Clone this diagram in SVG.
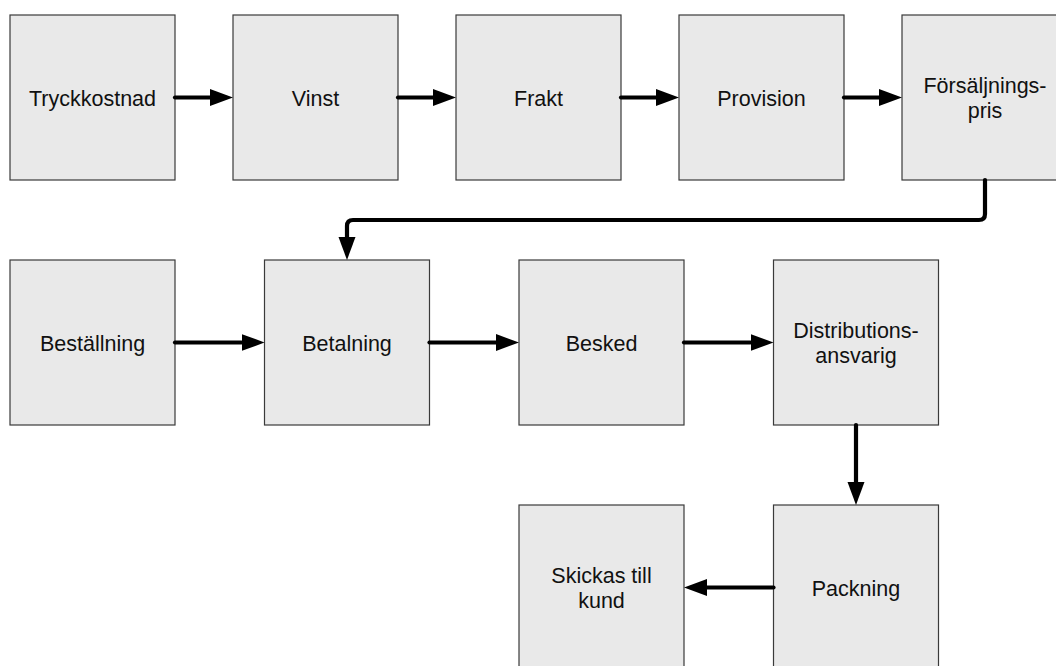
<svg xmlns="http://www.w3.org/2000/svg" width="1056" height="666" viewBox="0 0 1056 666">
<style>
.box{fill:#e9e9e9;stroke:#3a3a3a;stroke-width:1.2}
.lbl{font-family:"Liberation Sans",Arial,Helvetica,sans-serif;font-size:21.5px;fill:#111;text-anchor:middle}
.con{fill:none;stroke:#000;stroke-width:4.2;stroke-linecap:round;stroke-linejoin:round}
</style>
<defs>
<marker id="ah" markerUnits="userSpaceOnUse" markerWidth="23" markerHeight="18" refX="0" refY="8.5" orient="auto" viewBox="0 0 23 17">
<path d="M0,0 L23,8.5 L0,17 Z" fill="#000"/>
</marker>
</defs>
<rect width="1056" height="666" fill="#fff"/>
<g id="n1"><rect class="box" x="10" y="15" width="165" height="165"/><text class="lbl" x="92.5" y="105.5">Tryckkostnad</text></g>
<g id="n2"><rect class="box" x="233" y="15" width="165" height="165"/><text class="lbl" x="315.5" y="105.5">Vinst</text></g>
<g id="n3"><rect class="box" x="456" y="15" width="165" height="165"/><text class="lbl" x="538.5" y="105.5">Frakt</text></g>
<g id="n4"><rect class="box" x="679" y="15" width="165" height="165"/><text class="lbl" x="761.5" y="105.5">Provision</text></g>
<g id="n5"><rect class="box" x="902" y="15" width="165" height="165"/><text class="lbl" x="985" y="93.3">Försäljnings-</text><text class="lbl" x="985" y="118.3">pris</text></g>
<g id="n6"><rect class="box" x="10" y="260" width="165" height="165"/><text class="lbl" x="92.5" y="350.5">Beställning</text></g>
<g id="n7"><rect class="box" x="264.5" y="260" width="165" height="165"/><text class="lbl" x="347" y="350.5">Betalning</text></g>
<g id="n8"><rect class="box" x="519" y="260" width="165" height="165"/><text class="lbl" x="601.5" y="350.5">Besked</text></g>
<g id="n9"><rect class="box" x="773.5" y="260" width="165" height="165"/><text class="lbl" x="856" y="337.8">Distributions-</text><text class="lbl" x="856" y="362.8">ansvarig</text></g>
<g id="n10"><rect class="box" x="773.5" y="505" width="165" height="165"/><text class="lbl" x="856" y="595.5">Packning</text></g>
<g id="n11"><rect class="box" x="519" y="505" width="165" height="165"/><text class="lbl" x="601.5" y="583.3">Skickas till</text><text class="lbl" x="601.5" y="608.3">kund</text></g>
<g id="connectors">
<path class="con" d="M175,97.5 H210" marker-end="url(#ah)"/>
<path class="con" d="M398,97.5 H433" marker-end="url(#ah)"/>
<path class="con" d="M621,97.5 H656" marker-end="url(#ah)"/>
<path class="con" d="M844,97.5 H879" marker-end="url(#ah)"/>
<path class="con" d="M985,180 V214 Q985,220 979,220 H353 Q347,220 347,226 V237" marker-end="url(#ah)"/>
<path class="con" d="M175,342.5 H241.5" marker-end="url(#ah)"/>
<path class="con" d="M429.5,342.5 H496" marker-end="url(#ah)"/>
<path class="con" d="M684,342.5 H750.5" marker-end="url(#ah)"/>
<path class="con" d="M856,425 V482" marker-end="url(#ah)"/>
<path class="con" d="M773.5,587.5 H707" marker-end="url(#ah)"/>
</g>
</svg>
